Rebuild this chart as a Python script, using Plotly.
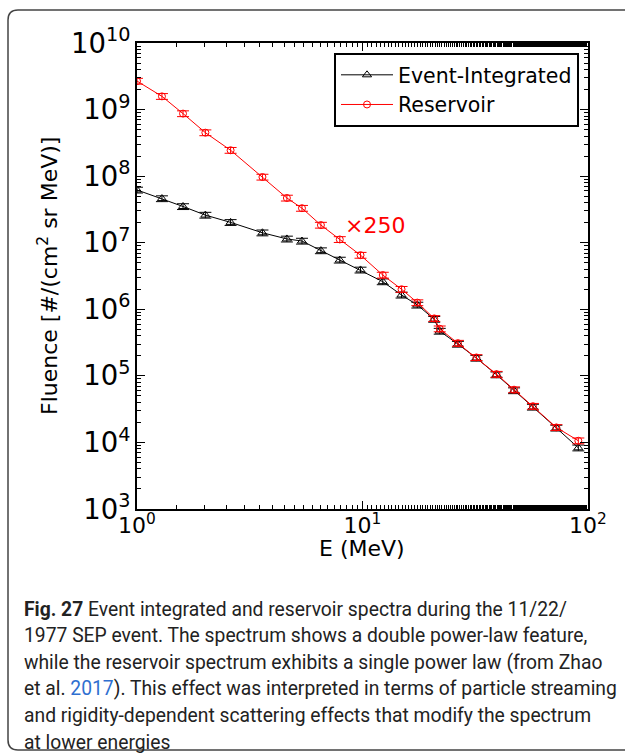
import numpy as np
import plotly.graph_objects as go

# energies (MeV)
energy = [1.0, 1.29, 1.60, 2.01, 2.6, 3.6, 4.62, 5.39, 6.54, 7.93, 9.8, 12.3,
          14.9, 17.5, 20.8, 22.0, 26.5, 32.0, 39.3, 47.0, 57.0, 72.4, 90.6]

event_integrated = [6.2e7, 4.6e7, 3.5e7, 2.6e7, 2.02e7, 1.41e7, 1.14e7, 1.06e7,
                    7.6e6, 5.5e6, 3.9e6, 2.6e6, 1.64e6, 1.16e6, 7.1e5, 4.7e5,
                    3.0e5, 1.85e5, 1.04e5, 6.0e4, 3.4e4, 1.65e4, 8.3e3]
event_err_pct = [4, 4, 4, 4, 4, 4, 4, 4, 5, 5, 5, 6, 6, 6, 7, 7, 7, 7, 7, 7, 8, 9, 12]

reservoir = [2.68e9, 1.58e9, 8.7e8, 4.5e8, 2.45e8, 9.7e7, 4.7e7, 3.3e7, 1.84e7,
             1.12e7, 6.5e6, 3.27e6, 2.0e6, 1.26e6, 7.3e5, 5.1e5, 3.1e5, 1.89e5,
             1.06e5, 6.2e4, 3.5e4, 1.68e4, 1.06e4]
reservoir_err_pct = [4, 4, 4, 4, 4, 5, 5, 5, 5, 5, 5, 6, 6, 6, 7, 7, 7, 7, 7, 7, 8, 9, 14]

x_tickvals = [1, 10, 100]
x_ticktext = ["10<sup>0</sup>", "10<sup>1</sup>", "10<sup>2</sup>"]

caption_lines = [
    "<b>Fig. 27</b> Event integrated and reservoir spectra during the 11/22/",
    "1977 SEP event. The spectrum shows a double power-law feature,",
    "while the reservoir spectrum exhibits a single power law (from Zhao",
    "et al. <span style='color:#2f6fd0'>2017</span>). This effect was interpreted in terms of particle streaming",
    "and rigidity-dependent scattering effects that modify the spectrum",
    "at lower energies",
]

W, H = 625, 753
L, R, T, B = 137, 588, 43, 509


def px(x):
    return (x - L) / (R - L)


def py(y):
    return (B - y) / (B - T)


fig = go.Figure()

fig.add_trace(go.Scatter(
    x=energy, y=event_integrated, name="Event-Integrated",
    mode="lines+markers",
    line=dict(color="black", width=1),
    marker=dict(symbol="triangle-up-open", size=8, color="black", line=dict(width=1)),
    error_y=dict(type="percent", array=event_err_pct, color="black", thickness=1, width=6),
))
fig.add_trace(go.Scatter(
    x=energy, y=reservoir, name="Reservoir",
    mode="lines+markers",
    line=dict(color="#ff0000", width=1),
    marker=dict(symbol="circle-open", size=7, color="#ff0000", line=dict(width=1)),
    error_y=dict(type="percent", array=reservoir_err_pct, color="#ff0000", thickness=1, width=6),
))

axis_common = dict(
    type="log", showgrid=False, zeroline=False,
    showline=True, linecolor="black", linewidth=2, mirror="allticks",
    ticks="inside", ticklen=8, tickwidth=1, tickcolor="black",
    minor=dict(ticks="inside", ticklen=4, tickwidth=1, tickcolor="black", showgrid=False),
    tickfont=dict(family="DejaVu Sans", size=22, color="black"),
)
fig.update_xaxes(range=[0, 2], tickvals=x_tickvals, ticktext=x_ticktext,
                 ticklabelstandoff=-4, **axis_common)
fig.update_yaxes(range=[3, 10], dtick=1, exponentformat="power", **axis_common)

ann = [
    dict(x=np.log10(8.2), y=np.log10(1.84e7), xref="x", yref="y", text="×250",
         showarrow=False, xanchor="left", yanchor="middle",
         font=dict(family="DejaVu Sans", size=22, color="#ff0000")),
    dict(x=px(48), y=py(276), xref="paper", yref="paper",
         text="Fluence [#/(cm<sup>2</sup> sr MeV)]", textangle=-90, showarrow=False,
         xanchor="center", yanchor="middle",
         font=dict(family="DejaVu Sans", size=22, color="black")),
    dict(x=px(362), y=py(548), xref="paper", yref="paper", text="E (MeV)",
         showarrow=False, xanchor="center", yanchor="middle",
         font=dict(family="DejaVu Sans", size=22, color="black")),
]
for i, line in enumerate(caption_lines):
    ann.append(dict(x=px(22), y=py(609 + i * 26.6), xref="paper", yref="paper",
                    text=line, showarrow=False, xanchor="left", yanchor="middle",
                    font=dict(family="Roboto", size=19.3, color="#222222")))

# rounded frame around the figure
x0, x1 = px(8), px(640)
y0, y1 = py(10), py(750)
rx, ry = 10 / (R - L), 10 / (B - T)
frame = (f"M {x1},{y0} L {x0 + rx},{y0} Q {x0},{y0} {x0},{y0 - ry} "
         f"L {x0},{y1 + ry} Q {x0},{y1} {x0 + rx},{y1} L {x1},{y1}")

fig.update_layout(
    width=W, height=H,
    margin=dict(l=L, r=W - R, t=T, b=H - B),
    paper_bgcolor="white", plot_bgcolor="white",
    annotations=ann,
    shapes=[dict(type="path", path=frame, xref="paper", yref="paper",
                 line=dict(color="#444444", width=1.5))],
    legend=dict(x=px(334), y=py(53), xanchor="left", yanchor="top",
                bordercolor="black", borderwidth=2, bgcolor="white",
                font=dict(family="DejaVu Sans", size=20.5, color="black"),
                itemwidth=52, tracegroupgap=0),
    font=dict(family="DejaVu Sans", color="black"),
)

fig.write_html("out.html", config={"displayModeBar": False},
               post_script="document.body.style.margin='0';")
